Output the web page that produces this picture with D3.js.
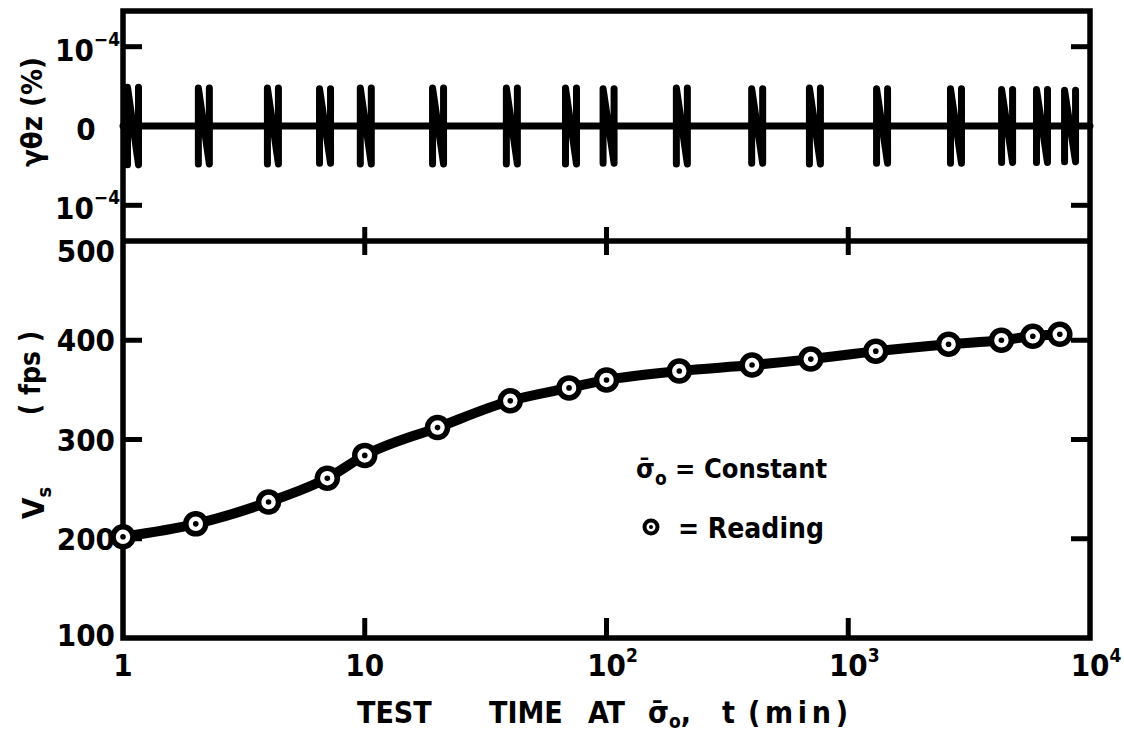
<!DOCTYPE html>
<html><head><meta charset="utf-8">
<script src="https://cdn.jsdelivr.net/npm/d3@7"></script>
<style>
html,body{margin:0;padding:0;background:#fff;}
text{font-family:"DejaVu Sans Condensed","DejaVu Sans",sans-serif;font-weight:bold;fill:#000;}
</style></head>
<body>
<svg id="c" width="1124" height="731"></svg>
<script>
// ---- data ----
const readingTimes = [1, 2, 4, 7, 10, 20, 40, 70, 100, 200, 400, 700, 1300, 2600, 4300, 5800, 7500];
const vsValues     = [202, 215, 237, 261, 284, 312, 339, 352, 360, 369, 375, 381, 389, 396, 400, 404, 406];
const shearTimes   = [1.1, 2.16, 4.17, 6.85, 10.1, 20.1, 40.6, 71.3, 102, 205, 420, 728, 1380, 2790, 4540, 6330, 8270];
const shearPeak    = [0.49, 0.48, 0.48, 0.47, 0.48, 0.48, 0.48, 0.48, 0.47, 0.48, 0.47, 0.48, 0.47, 0.47, 0.46, 0.46, 0.45]; // x 1e-4 %
const xTicks = [1, 10, 100, 1000, 10000];
const xTickLabels = [["1",""],["10",""],["10","2"],["10","3"],["10","4"]];
const vsTicks = [100, 200, 300, 400, 500];
const gammaTicks = [1, 0, -1];
const gammaTickLabels = [["10","-4"],["0",""],["10","-4"]];

const svg = d3.select("#c");
const L = 123, R = 1090, T = 11, M = 241, B = 638;
const x = d3.scaleLog().domain([1, 10000]).range([L, R]);
const yV = d3.scaleLinear().domain([100, 500]).range([B, M]);
const yG = d3.scaleLinear().domain([-1.45, 1.45]).range([M, T]);

const ink = "#000";
// frame
svg.append("rect").attr("x", L).attr("y", T).attr("width", R - L).attr("height", B - T)
  .attr("fill", "none").attr("stroke", ink).attr("stroke-width", 5.5);
svg.append("line").attr("x1", L).attr("x2", R).attr("y1", M).attr("y2", M)
  .attr("stroke", ink).attr("stroke-width", 5.5);

// x ticks (middle line crossing, bottom inward)
const innerX = xTicks.slice(1, 4);
svg.selectAll(".mt").data(innerX).enter().append("line")
  .attr("x1", d => x(d)).attr("x2", d => x(d)).attr("y1", M - 14).attr("y2", M + 14)
  .attr("stroke", ink).attr("stroke-width", 5);
svg.selectAll(".bt").data(innerX).enter().append("line")
  .attr("x1", d => x(d)).attr("x2", d => x(d)).attr("y1", B).attr("y2", B - 20)
  .attr("stroke", ink).attr("stroke-width", 5);

// y ticks
const innerV = [200, 300, 400];
[[L, 1], [R, -1]].forEach(([x0, s]) => {
  svg.selectAll(null).data(innerV).enter().append("line")
    .attr("x1", x0).attr("x2", x0 + s * 19).attr("y1", d => yV(d)).attr("y2", d => yV(d))
    .attr("stroke", ink).attr("stroke-width", 5);
  svg.selectAll(null).data([1, -1]).enter().append("line")
    .attr("x1", x0).attr("x2", x0 + s * 19).attr("y1", d => yG(d)).attr("y2", d => yG(d))
    .attr("stroke", ink).attr("stroke-width", 5);
});

// x tick labels
const xl = svg.selectAll(".xl").data(xTicks).enter().append("text")
  .attr("x", d => x(d)).attr("y", 676).attr("text-anchor", "middle").attr("font-size", 31);
xl.each(function(d, i) {
  const t = d3.select(this);
  t.append("tspan").text(xTickLabels[i][0]);
  if (xTickLabels[i][1]) t.append("tspan").attr("dy", -14).attr("font-size", 19).text(xTickLabels[i][1]);
});
xl.attr("dx", (d, i) => xTickLabels[i][1] ? 6 : 0);

// y tick labels bottom
svg.selectAll(".yl").data(vsTicks).enter().append("text")
  .attr("x", 115).attr("y", d => yV(d) + (d === 500 ? 21 : (d === 100 ? 8 : 11)))
  .attr("text-anchor", "end").attr("font-size", 31)
  .text(d => d);

// y tick labels top
gammaTicks.forEach((d, i) => {
  const t = svg.append("text").attr("y", yG(d) + 14).attr("font-size", 31);
  if (gammaTickLabels[i][1]) {
    t.attr("x", 55);
    t.append("tspan").text(gammaTickLabels[i][0]);
    t.append("tspan").attr("dy", -15).attr("font-size", 19).text("−" + gammaTickLabels[i][1].slice(1));
  } else {
    t.attr("x", 86).attr("text-anchor", "middle").text(gammaTickLabels[i][0]);
  }
});

// shear strain trace
const nW = 11;
const pts = [[L, yG(0)]];
shearTimes.forEach((t, i) => {
  const xl0 = x(t) - nW / 2, xr0 = x(t) + nW / 2;
  const a = shearPeak[i];
  pts.push([xl0, yG(0)], [xl0, yG(-a)], [xl0, yG(a)], [xr0, yG(-a)], [xr0, yG(a)], [xr0, yG(0)]);
});
pts.push([R, yG(0)]);
svg.append("path").attr("d", d3.line()(pts)).attr("fill", "none").attr("stroke", ink)
  .attr("stroke-width", 7).attr("stroke-linejoin", "round").attr("stroke-linecap", "round");

// Vs curve
const data = readingTimes.map((t, i) => [x(t), yV(vsValues[i])]);
svg.append("path").attr("d", d3.line().curve(d3.curveMonotoneX)(data))
  .attr("fill", "none").attr("stroke", ink).attr("stroke-width", 10).attr("stroke-linecap", "round");
svg.selectAll(".pt").data(data).enter().append("circle")
  .attr("cx", d => d[0]).attr("cy", d => d[1]).attr("r", 10)
  .attr("fill", "#fff").attr("stroke", ink).attr("stroke-width", 5.5);
svg.selectAll(".dot").data(data).enter().append("circle")
  .attr("cx", d => d[0]).attr("cy", d => d[1]).attr("r", 2.8).attr("fill", ink);

// axis titles
svg.append("text").attr("transform", "translate(42,112) rotate(-90)").attr("text-anchor", "middle")
  .attr("font-size", 29).text("γθz (%)");
svg.append("text").attr("transform", "translate(40,373) rotate(-90)").attr("text-anchor", "middle")
  .attr("font-size", 28).text("( fps )");
const vs = svg.append("text").attr("transform", "translate(44,503) rotate(-90)").attr("text-anchor", "middle")
  .attr("font-size", 31);
vs.append("tspan").text("V");
vs.append("tspan").attr("dy", 7).attr("font-size", 20).text("s");

// x axis title (words placed as in the reference)
const ty = 723;
[["TEST", 357], ["TIME", 489], ["AT", 588]].forEach(([s, px]) =>
  svg.append("text").attr("x", px).attr("y", ty).attr("font-size", 30).text(s));
const sg = svg.append("text").attr("x", 648).attr("y", ty).attr("font-size", 30);
sg.append("tspan").text("σ\u0304");
sg.append("tspan").attr("dy", 5).attr("font-size", 19).text("o");
sg.append("tspan").attr("dy", -5).text(",");
svg.append("text").attr("x", 722).attr("y", ty).attr("font-size", 30).text("t");
svg.append("text").attr("x", 748).attr("y", ty).attr("font-size", 30)
  .attr("textLength", 100).attr("lengthAdjust", "spacing").text("(min)");

// legend
const lg1 = svg.append("text").attr("x", 636).attr("y", 478).attr("font-size", 27);
lg1.append("tspan").text("σ\u0304");
lg1.append("tspan").attr("dy", 7).attr("font-size", 19).text("o");
lg1.append("tspan").attr("dy", -7).text(" = Constant");
svg.append("circle").attr("cx", 651).attr("cy", 527).attr("r", 6.5).attr("fill", "#fff")
  .attr("stroke", ink).attr("stroke-width", 4);
svg.append("circle").attr("cx", 651).attr("cy", 527).attr("r", 2).attr("fill", ink);
svg.append("text").attr("x", 678).attr("y", 538).attr("font-size", 28).text("= Reading");
</script>
</body></html>
